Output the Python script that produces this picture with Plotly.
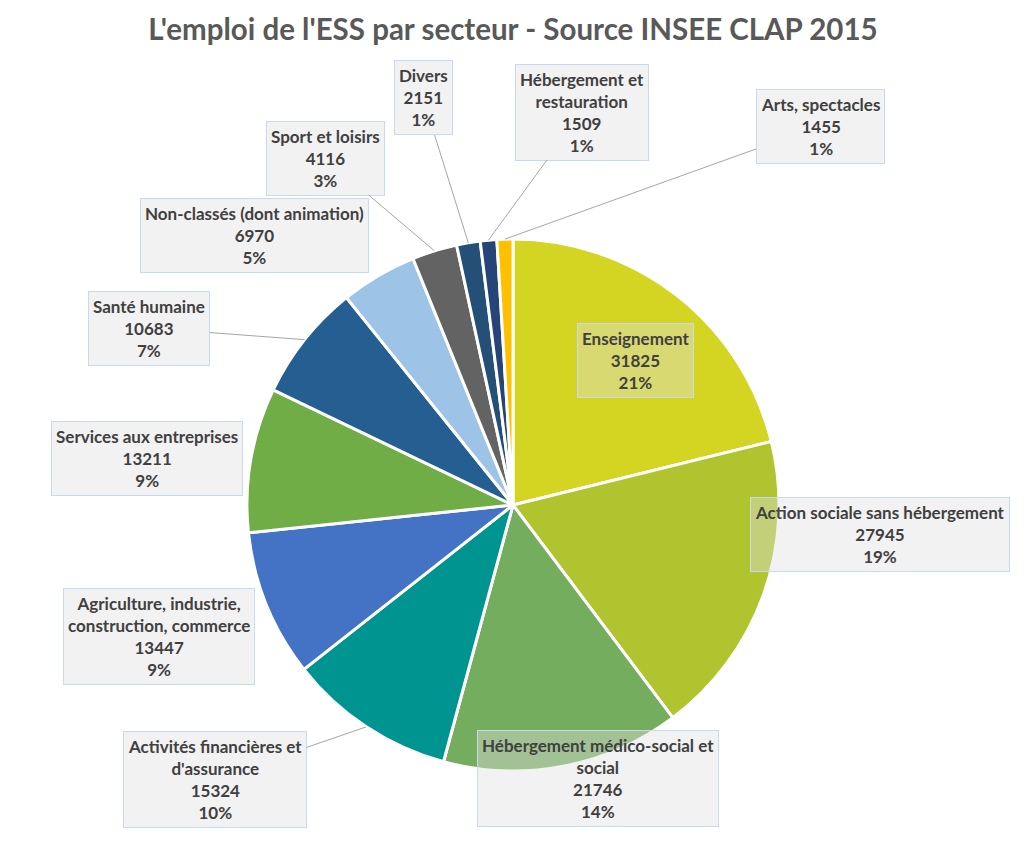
import math
import plotly.graph_objects as go

# Emploi de l'ESS par secteur (INSEE CLAP 2015)
sectors = [
    "Enseignement",
    "Action sociale sans hébergement",
    "Hébergement médico-social et social",
    "Activités financières et d'assurance",
    "Agriculture, industrie, construction, commerce",
    "Services aux entreprises",
    "Santé humaine",
    "Non-classés (dont animation)",
    "Sport et loisirs",
    "Divers",
    "Hébergement et restauration",
    "Arts, spectacles",
]
jobs = [31825, 27945, 21746, 15324, 13447, 13211, 10683, 6970, 4116, 2151, 1509, 1455]

# how each label is wrapped in its box
wrapped = [
    "Enseignement",
    "Action sociale sans hébergement",
    "Hébergement médico-social et<br>social",
    "Activités financières et<br>d'assurance",
    "Agriculture, industrie,<br>construction, commerce",
    "Services aux entreprises",
    "Santé humaine",
    "Non-classés (dont animation)",
    "Sport et loisirs",
    "Divers",
    "Hébergement et<br>restauration",
    "Arts, spectacles",
]

colors = ["#D4D523", "#B0C42F", "#75AD5F", "#009490", "#4472C4", "#70AD47",
          "#255E91", "#9DC3E6", "#636363", "#245078", "#264478", "#FFC000"]

OFF = 8  # page body margin
W, H = 1026, 840
CX, CY, R = 513 - OFF, 505 - OFF, 266  # pie centre and radius in figure pixels

# box centres (page pixels) and whether a leader line is drawn
box_pos = [(635, 360), (880, 534), (598, 778), (215, 779), (159, 636), (147, 458),
           (149, 328), (254, 236), (325, 158), (423, 98), (582, 112), (820, 126)]
leader = [False, False, False, True, False, False, True, False, True, True, True, True]

total = sum(jobs)

fig = go.Figure()
fig.add_trace(go.Pie(
    labels=sectors,
    values=jobs,
    sort=False,
    direction="clockwise",
    rotation=0,
    textinfo="none",
    hoverinfo="label+value+percent",
    marker=dict(colors=colors, line=dict(color="white", width=3)),
    domain=dict(x=[(CX - R) / W, (CX + R) / W], y=[1 - (CY + R) / H, 1 - (CY - R) / H]),
    showlegend=False,
))

annotations = []
cum = 0
for name, val, (bx, by), line in zip(wrapped, jobs, box_pos, leader):
    bx, by = bx - OFF, by - OFF
    mid = (cum + val / 2) / total * 2 * math.pi
    cum += val
    text = f"{name}<br>{val}<br>{round(val / total * 100)}%"
    style = dict(
        text=text,
        xref="paper", yref="paper",
        xanchor="center", yanchor="middle",
        font=dict(family="Lato", size=17, color="#404040", weight="bold"),
        align="center",
        bgcolor="rgba(224,224,224,0.42)",
        bordercolor="#C9DAF0",
        borderwidth=1,
        borderpad=4,
    )
    if line:
        tx = CX + R * math.sin(mid)
        ty = CY - R * math.cos(mid)
        annotations.append(dict(
            x=tx / W, y=1 - ty / H,
            showarrow=True, arrowhead=0, arrowwidth=1, arrowcolor="#A6A6A6",
            standoff=0, ax=bx - tx, ay=by - ty,
            **style,
        ))
    else:
        annotations.append(dict(x=bx / W, y=1 - by / H, showarrow=False, **style))

fig.update_layout(
    width=W,
    height=H,
    margin=dict(l=0, r=0, t=0, b=0),
    paper_bgcolor="white",
    title=dict(
        text="L'emploi de l'ESS par secteur - Source INSEE CLAP 2015",
        x=(513 - OFF) / W, y=1 - (30 - OFF) / H, xanchor="center", yanchor="middle",
        font=dict(family="Lato", size=29.5, color="#595959", weight="bold"),
    ),
    annotations=annotations,
)

fig.write_html("out.html")
